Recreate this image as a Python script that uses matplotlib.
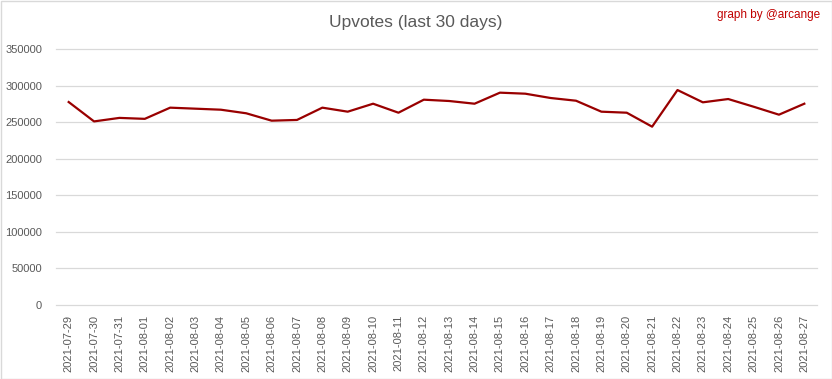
import matplotlib.pyplot as plt
from matplotlib.patches import Rectangle

dates = ["2021-07-29", "2021-07-30", "2021-07-31", "2021-08-01", "2021-08-02",
         "2021-08-03", "2021-08-04", "2021-08-05", "2021-08-06", "2021-08-07",
         "2021-08-08", "2021-08-09", "2021-08-10", "2021-08-11", "2021-08-12",
         "2021-08-13", "2021-08-14", "2021-08-15", "2021-08-16", "2021-08-17",
         "2021-08-18", "2021-08-19", "2021-08-20", "2021-08-21", "2021-08-22",
         "2021-08-23", "2021-08-24", "2021-08-25", "2021-08-26", "2021-08-27"]
upvotes = [277500, 251000, 255800, 254500, 269800, 268400, 267000, 262100, 252000, 253000,
           269800, 264300, 275200, 262900, 280700, 278900, 275200, 290300, 288900, 283000,
           279300, 264300, 262900, 243800, 293900, 277100, 281600, 271100, 260200, 275200]
yticks = [0, 50000, 100000, 150000, 200000, 250000, 300000, 350000]

plt.rcParams['font.family'] = ['Liberation Sans Narrow', 'Liberation Sans', 'DejaVu Sans']

fig = plt.figure(figsize=(8.32, 3.79), dpi=100)
ax = fig.add_axes([56 / 832, (379 - 305) / 379, (817 - 56) / 832, (305 - 49) / 379])

x = list(range(len(dates)))
ax.plot(x, upvotes, color="#990000", linewidth=1.6, solid_joinstyle="round", zorder=3)

ax.set_xlim(-0.5, len(dates) - 0.5)
ax.set_ylim(0, 350000)
ax.set_yticks(yticks)
ax.set_yticklabels([str(v) for v in yticks])
ax.set_xticks(x)
ax.set_xticklabels(dates, rotation=90)
ax.tick_params(axis="both", length=0, colors="#595959", labelsize=8)
ax.tick_params(axis="y", pad=10)
ax.tick_params(axis="x", pad=7)
ax.grid(axis="y", color="#d9d9d9", linewidth=0.9)
for gl in ax.get_ygridlines():
    gl.set_clip_on(False)
ax.set_axisbelow(True)
for s in ax.spines.values():
    s.set_visible(False)

fig.text(0.5, 1 - 22 / 379, "Upvotes (last 30 days)", ha="center", va="center",
         fontsize=12.5, color="#595959")
fig.text(820 / 832, 1 - 15 / 379, "graph by @arcange", ha="right", va="center",
         fontsize=8.5, color="#c00000")

fig.patches.append(Rectangle((0.5 / 832, 0.5 / 379), 831 / 832, 378 / 379,
                             transform=fig.transFigure, fill=False,
                             edgecolor="#d9d9d9", linewidth=1))

fig.savefig("out.png", dpi=100)
